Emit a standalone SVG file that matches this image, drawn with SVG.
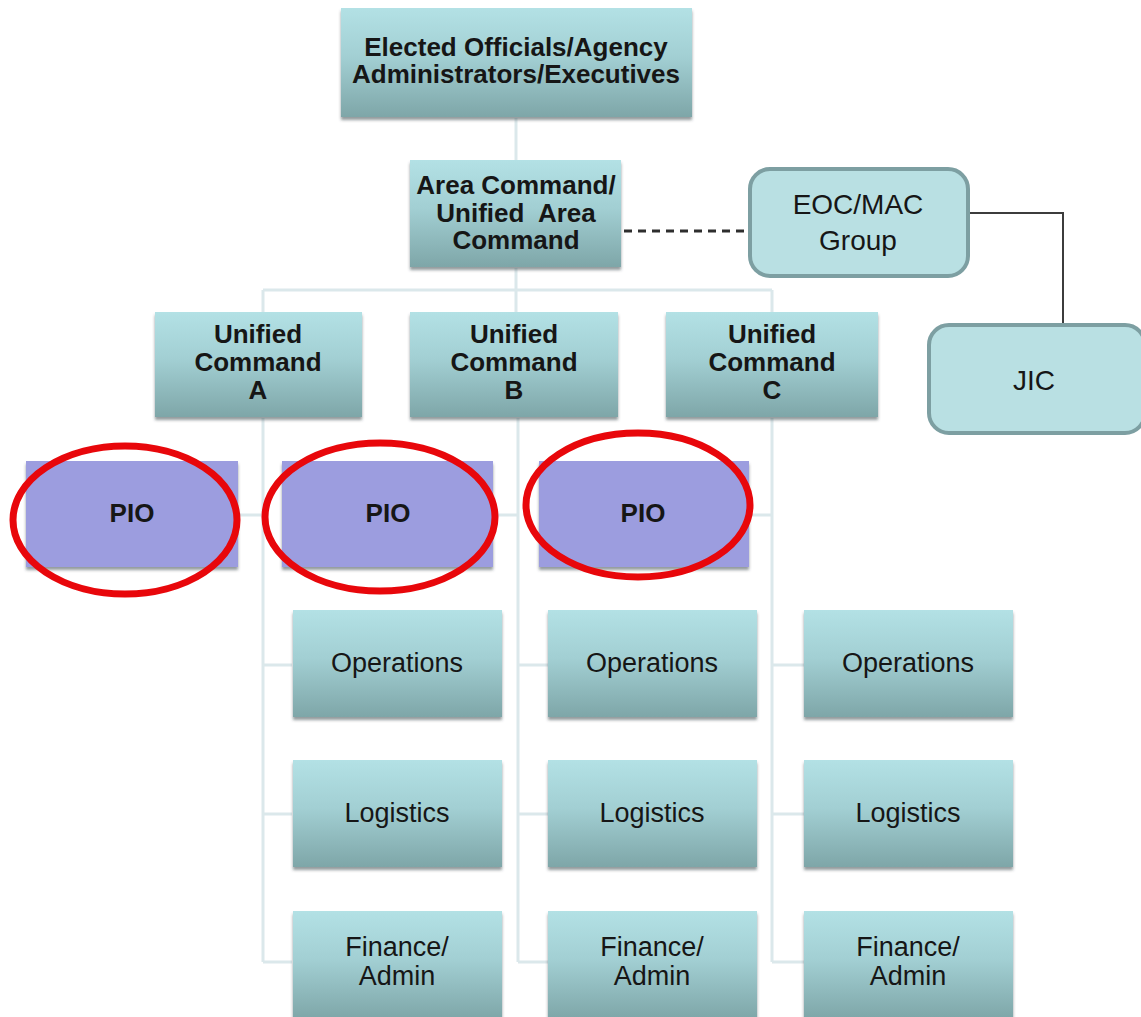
<svg xmlns="http://www.w3.org/2000/svg" width="1141" height="1017" viewBox="0 0 1141 1017">
  <defs>
    <linearGradient id="teal" x1="0" y1="0" x2="0" y2="1">
      <stop offset="0" stop-color="#b3e1e5"/>
      <stop offset="0.45" stop-color="#a2cfd3"/>
      <stop offset="1" stop-color="#7ea6a8"/>
    </linearGradient>
    <filter id="shadow" x="-5%" y="-5%" width="110%" height="120%">
      <feDropShadow dx="0" dy="3" stdDeviation="1.6" flood-color="#3a4a4c" flood-opacity="0.55"/>
    </filter>
  </defs>
  <style>
    .box { fill: url(#teal); filter: url(#shadow); }
    .pio { fill: #9c9ddf; filter: url(#shadow); }
    .round { fill: #b9e0e3; stroke: #7d9fa2; stroke-width: 4; }
    .ring { fill: none; stroke: #e8070b; stroke-width: 7; }
    .tree { fill: none; stroke: #dbe8eb; stroke-width: 3; }
    .solid { fill: none; stroke: #3c3c3c; stroke-width: 2; }
    .dash { fill: none; stroke: #2e2e2e; stroke-width: 3; stroke-dasharray: 8 6; }
    text { font-family: "Liberation Sans", Arial, sans-serif; fill: #161616; text-anchor: middle; }
    .b { font-weight: bold; font-size: 26px; }
    .r { font-size: 27px; }
    .big { font-size: 28px; }
  </style>

  <rect width="1141" height="1017" fill="#ffffff"/>

  <!-- connectors -->
  <g id="connectors">
    <path class="tree" d="M516 118 V160"/>
    <path class="tree" d="M516 268 V290 M263 290 H772 M263 290 V312 M516 290 V312 M772 290 V312"/>
    <path class="tree" d="M263 418 V962 M237 515 H263 M263 665 H292 M263 814 H292 M263 962 H292"/>
    <path class="tree" d="M518 418 V962 M493 515 H518 M518 665 H548 M518 814 H548 M518 962 H548"/>
    <path class="tree" d="M772 418 V962 M748 515 H772 M772 665 H804 M772 814 H804 M772 962 H804"/>
    <path class="dash" d="M624 231 H748"/>
    <path class="solid" d="M968 213 H1063 V323"/>
  </g>

  <g id="elected-officials">
    <rect class="box" x="341" y="8" width="351" height="109"/>
    <text class="b" x="516" y="56">Elected Officials/Agency</text>
    <text class="b" x="516" y="83">Administrators/Executives</text>
  </g>

  <g id="area-command">
    <rect class="box" x="410" y="160" width="211" height="107"/>
    <text class="b" x="516" y="194">Area Command/</text>
    <text class="b" x="516" y="222" xml:space="preserve">Unified  Area</text>
    <text class="b" x="516" y="249">Command</text>
  </g>

  <g id="eoc-mac">
    <rect class="round" x="750" y="169" width="218" height="107" rx="20"/>
    <text class="big" x="858" y="214">EOC/MAC</text>
    <text class="big" x="858" y="250">Group</text>
  </g>

  <g id="jic">
    <rect class="round" x="929" y="325" width="216" height="108" rx="20"/>
    <text class="big" x="1034" y="390">JIC</text>
  </g>

  <g id="unified-a">
    <rect class="box" x="155" y="312" width="207" height="105"/>
    <text class="b" x="258" y="343">Unified</text>
    <text class="b" x="258" y="371">Command</text>
    <text class="b" x="258" y="399">A</text>
  </g>
  <g id="unified-b">
    <rect class="box" x="410" y="312" width="208" height="105"/>
    <text class="b" x="514" y="343">Unified</text>
    <text class="b" x="514" y="371">Command</text>
    <text class="b" x="514" y="399">B</text>
  </g>
  <g id="unified-c">
    <rect class="box" x="666" y="312" width="212" height="105"/>
    <text class="b" x="772" y="343">Unified</text>
    <text class="b" x="772" y="371">Command</text>
    <text class="b" x="772" y="399">C</text>
  </g>

  <g id="pio-a">
    <rect class="pio" x="26" y="461" width="212" height="106"/>
    <text class="b" x="132" y="522">PIO</text>
    <ellipse class="ring" cx="125" cy="520" rx="112" ry="74"/>
  </g>
  <g id="pio-b">
    <rect class="pio" x="282" y="461" width="211" height="106"/>
    <text class="b" x="388" y="522">PIO</text>
    <ellipse class="ring" cx="380" cy="517" rx="115" ry="74"/>
  </g>
  <g id="pio-c">
    <rect class="pio" x="539" y="461" width="210" height="106"/>
    <text class="b" x="643" y="522">PIO</text>
    <ellipse class="ring" cx="638" cy="505" rx="112" ry="72"/>
  </g>

  <g id="operations-a">
    <rect class="box" x="293" y="610" width="209" height="107"/>
    <text class="r" x="397" y="672">Operations</text>
  </g>
  <g id="operations-b">
    <rect class="box" x="548" y="610" width="209" height="107"/>
    <text class="r" x="652" y="672">Operations</text>
  </g>
  <g id="operations-c">
    <rect class="box" x="804" y="610" width="209" height="107"/>
    <text class="r" x="908" y="672">Operations</text>
  </g>

  <g id="logistics-a">
    <rect class="box" x="293" y="760" width="209" height="107"/>
    <text class="r" x="397" y="822">Logistics</text>
  </g>
  <g id="logistics-b">
    <rect class="box" x="548" y="760" width="209" height="107"/>
    <text class="r" x="652" y="822">Logistics</text>
  </g>
  <g id="logistics-c">
    <rect class="box" x="804" y="760" width="209" height="107"/>
    <text class="r" x="908" y="822">Logistics</text>
  </g>

  <g id="finance-a">
    <rect class="box" x="293" y="911" width="209" height="108"/>
    <text class="r" x="397" y="956">Finance/</text>
    <text class="r" x="397" y="985">Admin</text>
  </g>
  <g id="finance-b">
    <rect class="box" x="548" y="911" width="209" height="108"/>
    <text class="r" x="652" y="956">Finance/</text>
    <text class="r" x="652" y="985">Admin</text>
  </g>
  <g id="finance-c">
    <rect class="box" x="804" y="911" width="209" height="108"/>
    <text class="r" x="908" y="956">Finance/</text>
    <text class="r" x="908" y="985">Admin</text>
  </g>
</svg>
